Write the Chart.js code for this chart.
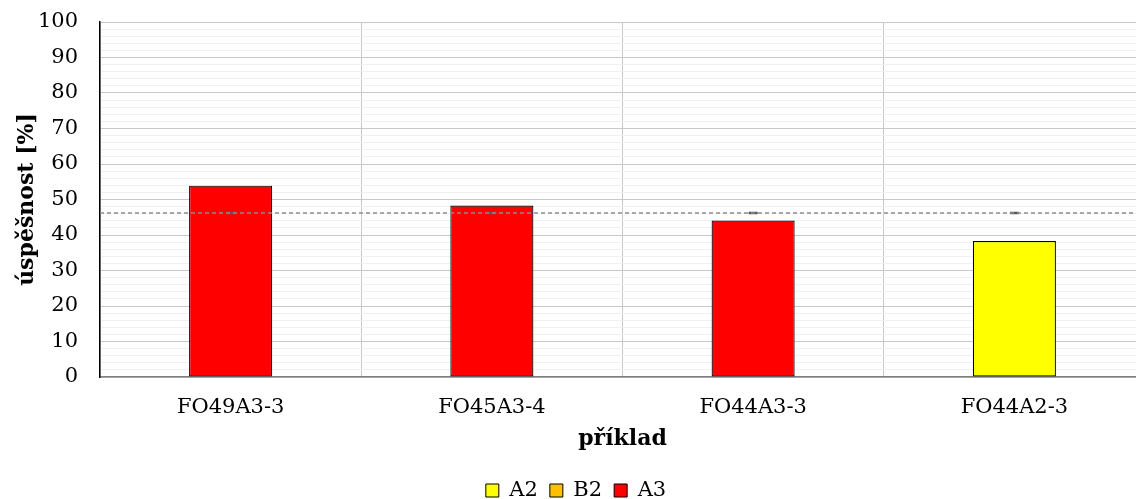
<!DOCTYPE html>
<html>
<head>
<meta charset="utf-8">
<script src="https://cdn.jsdelivr.net/npm/chart.js@4.4.0/dist/chart.umd.min.js"></script>
<style>
  html, body { margin: 0; padding: 0; background: #fff; overflow: hidden; }
  #wrap { width: 1136px; height: 499px; overflow: hidden; }
</style>
</head>
<body>
<div id="wrap"><canvas id="chart" width="1152" height="511"></canvas></div>
<script>
// data
const categories = ['FO49A3-3', 'FO45A3-4', 'FO44A3-3', 'FO44A2-3'];
const values = [53.9, 48.3, 44.1, 38.3];
const groups = ['A3', 'A3', 'A3', 'A2'];
const meanValues = [46.2, 46.2, 46.2, 46.2];
const legendGroups = ['A2', 'B2', 'A3'];
const groupColors = { A2: '#ffff00', B2: '#ffc000', A3: '#ff0000' };
const yTicks = [0, 10, 20, 30, 40, 50, 60, 70, 80, 90, 100];

const font = 'DejaVu Serif';

// dashed mean line across the whole plot
const meanLine = {
  id: 'meanLine',
  afterDatasetsDraw(chart) {
    const { ctx, chartArea, scales } = chart;
    const y = scales.y.getPixelForValue(meanValues[0]);
    ctx.save();
    ctx.strokeStyle = '#8c8c8c';
    ctx.lineWidth = 1.3;
    ctx.setLineDash([4, 3]);
    ctx.beginPath();
    ctx.moveTo(chartArea.left, y);
    ctx.lineTo(chartArea.right, y);
    ctx.stroke();
    ctx.restore();
  }
};

new Chart(document.getElementById('chart'), {
  type: 'bar',
  data: {
    labels: categories,
    datasets: [
      {
        type: 'line',
        label: 'průměr',
        data: meanValues,
        showLine: false,
        pointStyle: 'line',
        pointRadius: 4.5,
        pointBorderWidth: 2.5,
        pointBorderColor: '#595959',
        borderColor: '#595959',
        order: 0
      },
      {
        label: 'úspěšnost',
        data: values,
        backgroundColor: groups.map(g => groupColors[g]),
        borderColor: '#000',
        borderWidth: 1.2,
        borderSkipped: false,
        categoryPercentage: 1,
        barPercentage: 0.318,
        order: 1
      }
    ]
  },
  options: {
    responsive: false,
    animation: false,
    layout: { padding: 0 },
    scales: {
      x: {
        afterFit(scale) { scale.height = 91; },
        grid: { offset: true, color: '#c8c8c8', drawTicks: false },
        border: { color: '#7f7f7f', width: 1.5 },
        ticks: { color: '#000', font: { family: font, size: 21 }, padding: 18 },
        title: {
          display: true, text: 'příklad', color: '#000',
          font: { family: font, size: 22, weight: 'bold' }, padding: { top: 6, bottom: 16 }
        }
      },
      y: {
        min: 0,
        max: 100,
        afterFit(scale) {
          scale.width = 100;
          scale.paddingTop = 22;
          scale.paddingBottom = 0;
        },
        grid: {
          drawTicks: false,
          color: c => (yTicks.includes(c.tick.value) ? '#c8c8c8' : '#f0f0f0')
        },
        border: { color: '#000', width: 1.5 },
        ticks: {
          stepSize: 2,
          autoSkip: false,
          color: '#000',
          padding: 22,
          font: { family: font, size: 21 },
          callback: v => (yTicks.includes(v) ? v : '')
        },
        title: {
          display: true, text: 'úspěšnost [%]', color: '#000',
          font: { family: font, size: 22, weight: 'bold' }, padding: { top: 14, bottom: 0 }
        }
      }
    },
    plugins: {
      tooltip: { enabled: false },
      legend: {
        position: 'bottom',
        labels: {
          color: '#000',
          font: { family: font, size: 21 },
          boxWidth: 13,
          boxHeight: 13,
          padding: 12,
          generateLabels: () => legendGroups.map(g => ({
            text: g,
            fillStyle: groupColors[g],
            strokeStyle: '#000',
            lineWidth: 1,
            hidden: false
          }))
        }
      }
    }
  },
  plugins: [meanLine]
});
</script>
</body>
</html>
